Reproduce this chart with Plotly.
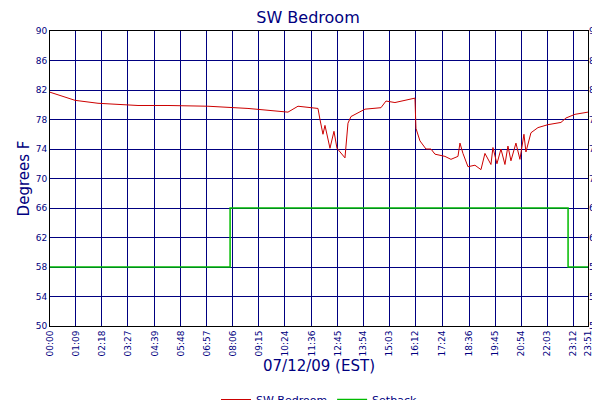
import plotly.graph_objects as go

# pixel-read points converted to minutes since 00:00 and degrees F
red_px = [42,53,67,90,130,160,200,240,280,290,310,312,315,317,322,326,329,337,340,343,357,373,378,387,405,407,408,412,418,423,427,437,443,450,452,455,460,467,473,477,483,485,489,493,497,500,503,508,512,516,518,523,530,540,553,558,567,580]
red_val = [81.7,81.2,80.6,80.2,79.9,79.9,79.8,79.5,79.0,79.8,79.5,78.0,76.0,77.2,74.1,76.4,74.1,72.8,77.5,78.4,79.4,79.6,80.5,80.3,80.9,80.9,76.8,75.1,74.0,74.0,73.3,73.0,72.6,73.0,74.8,73.4,71.6,71.8,71.2,73.4,71.9,74.2,72.0,74.0,71.9,74.4,72.4,74.8,72.6,76.0,73.6,76.2,76.9,77.3,77.6,78.2,78.7,79.0]
red_t = [(p - 42) / 0.376 for p in red_px]
green_t = [0, 479, 479, 1378, 1378, 1431]
green_val = [58, 58, 66, 66, 58, 58]
tick_vals = [0,69,138,207,279,348,417,486,555,624,696,765,834,903,972,1044,1116,1185,1254,1323,1392,1431]
tick_text = ["00:00","01:09","02:18","03:27","04:39","05:48","06:57","08:06","09:15","10:24","11:36","12:45","13:54","15:03","16:12","17:24","18:36","19:45","20:54","22:03","23:12","23:51"]
y_ticks = [50,54,58,62,66,70,74,78,82,86,90]

navy = "#000080"
fig = go.Figure()
fig.add_trace(go.Scatter(x=red_t, y=red_val, mode="lines", name="SW Bedroom", line=dict(color="#cc0000", width=1)))
fig.add_trace(go.Scatter(x=green_t, y=green_val, mode="lines", name="Setback", line=dict(color="#00bb00", width=1.5)))
fig.add_trace(go.Scatter(x=[0], y=[50], yaxis="y2", showlegend=False, mode="markers", marker=dict(opacity=0), hoverinfo="skip"))
fig.update_layout(
    width=600, height=400, paper_bgcolor="white", plot_bgcolor="white",
    font=dict(family="DejaVu Sans", color=navy, size=9),
    margin=dict(l=42, r=20, t=23, b=82, autoexpand=False),
    title=dict(text="SW Bedroom", x=0.5, y=0.99, yanchor="top", font=dict(size=16, color=navy)),
    xaxis=dict(range=[0,1431], tickvals=tick_vals, ticktext=tick_text, tickangle=-90, automargin=False,
               showgrid=True, gridcolor=navy, gridwidth=1, showline=True, linecolor="black", mirror=True,
               title=dict(text="07/12/09 (EST)", font=dict(size=15, color=navy), standoff=4),
               tickfont=dict(size=9, color=navy)),
    yaxis=dict(range=[50,90], tickvals=y_ticks, showgrid=True, gridcolor=navy, showline=True, linecolor="black",
               mirror=True, automargin=False, title=dict(text="Degrees F", font=dict(size=15, color=navy), standoff=2)),
    yaxis2=dict(range=[50,90], tickvals=y_ticks, overlaying="y", side="right", showgrid=False, automargin=False),
    legend=dict(orientation="h", x=0.5, xanchor="center", y=-0.2, yanchor="top", font=dict(size=11, color=navy)),
    showlegend=True,
)
fig.write_html("out.html")
